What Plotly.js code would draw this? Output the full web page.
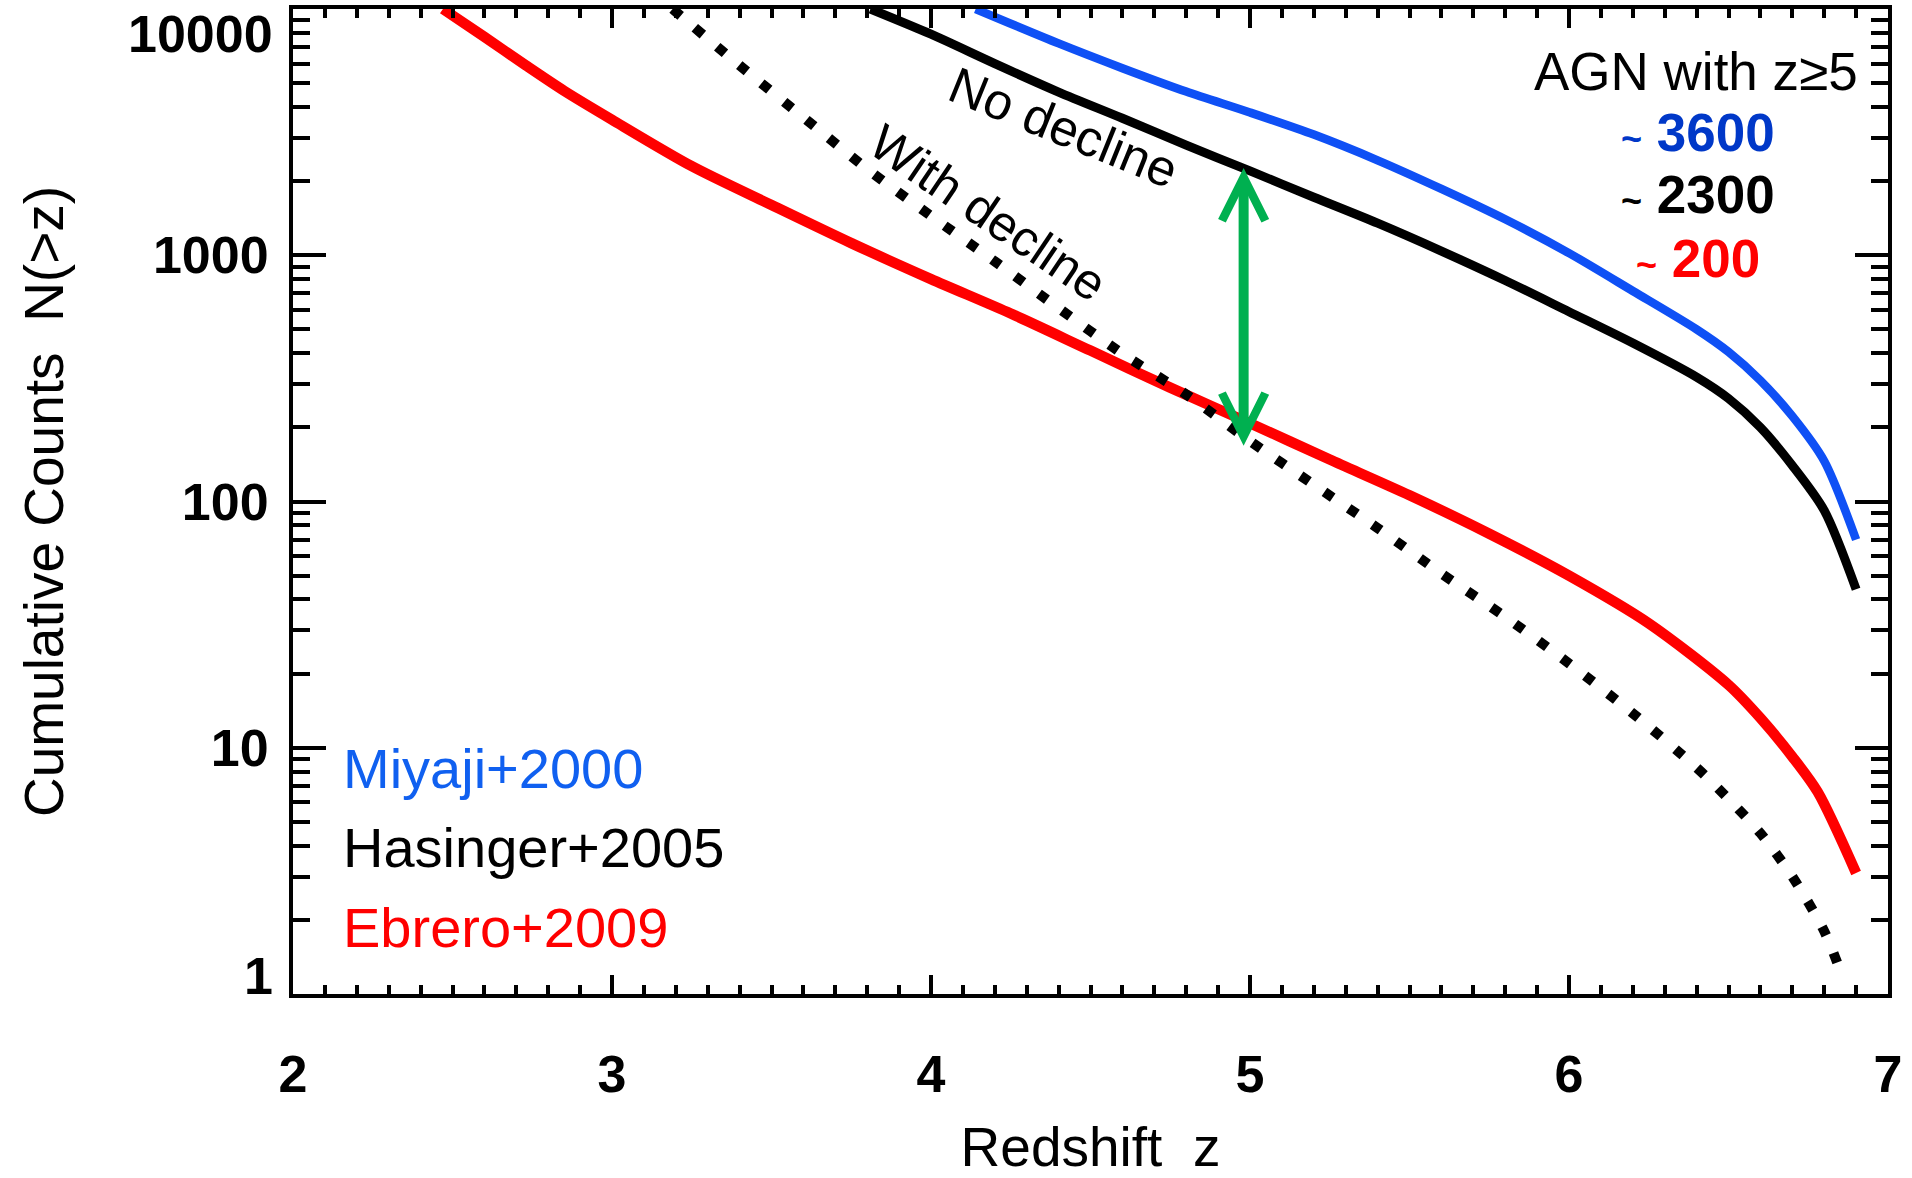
<!DOCTYPE html>
<html><head><meta charset="utf-8">
<script src="https://cdn.plot.ly/plotly-3.0.1.min.js"></script>
<style>html,body{margin:0;padding:0;background:#fff;}#chart{width:1912px;height:1178px;}</style>
</head><body><div id="chart"></div>
<script>
// ---- data ----
const zMiyaji   = [4.14, 4.4, 4.6, 4.8, 5.0, 5.2, 5.4, 5.6, 5.8, 6.0, 6.2, 6.4, 6.5, 6.6, 6.7, 6.8, 6.9];
const nMiyaji   = [10000, 7250, 5750, 4620, 3800, 3090, 2430, 1860, 1400, 1020, 716, 500, 405, 310, 222, 146, 70];

const zHasinger = [3.81, 4.0, 4.2, 4.4, 4.6, 4.8, 5.0, 5.2, 5.4, 5.6, 5.8, 6.0, 6.2, 6.4, 6.5, 6.6, 6.7, 6.8, 6.9];
const nHasinger = [10000, 7900, 6000, 4600, 3600, 2800, 2200, 1720, 1350, 1040, 790, 590, 440, 320, 262, 200, 140, 92, 44];

const zEbrero    = [2.47, 2.6, 2.73, 2.85, 3.0, 3.25, 3.5, 3.75, 4.0, 4.25, 4.5, 4.75, 5.0, 5.25, 5.5, 5.75, 6.0, 6.25, 6.5, 6.6, 6.7, 6.78, 6.9];
const nEbrero    = [10000, 7700, 5900, 4650, 3550, 2300, 1600, 1120, 800, 580, 410, 290, 208, 148, 106, 74, 50, 32, 18, 13.2, 9.2, 6.6, 3.1];

const zDecline  = [3.19, 3.4, 3.6, 3.8, 4.0, 4.2, 4.4, 4.6, 4.8, 5.0, 5.2, 5.4, 5.6, 5.8, 6.0, 6.2, 6.4, 6.5, 6.6, 6.7, 6.8, 6.86];
const nDecline  = [10000, 5900, 3630, 2240, 1445, 944, 610, 398, 272, 176, 117, 78, 51, 34, 22, 13.8, 8.3, 6.2, 4.5, 3.0, 1.8, 1.15];

const xTickVals = [2, 3, 4, 5, 6, 7];
const yTickVals = [1, 10, 100, 1000, 10000];
const yTickText = ['1', '10', '100', '1000', '10000'];

const seriesNames  = ['Miyaji+2000', 'Hasinger+2005', 'Ebrero+2009'];
const countLabels  = ['3600', '2300', '200'];
const countHeader  = 'AGN with z\u22655';

const arrowZ = 4.98, arrowTopN = 2260, arrowBottomN = 166;

// ---- styles ----
const FONT = 'Liberation Sans, Arial, Helvetica, sans-serif';
const BLUE = '#0F50F5', BLUE_TXT = '#1060F0', BLUE_DARK = '#0038C8';
const RED = '#FF0000', BLACK = '#000000', GREEN = '#00B050';

const traces = [
  {x: zMiyaji, y: nMiyaji, mode: 'lines', line: {color: BLUE, width: 8.5, shape: 'spline', smoothing: 0.8}, name: seriesNames[0]},
  {x: zHasinger, y: nHasinger, mode: 'lines', line: {color: BLACK, width: 9, shape: 'spline', smoothing: 0.8}, name: seriesNames[1]},
  {x: zEbrero, y: nEbrero, mode: 'lines', line: {color: RED, width: 10.5, shape: 'spline', smoothing: 0.8}, name: seriesNames[2]},
  {x: zDecline, y: nDecline, mode: 'lines', line: {color: BLACK, width: 10, dash: '10px,19px', shape: 'spline', smoothing: 0.8}, name: 'With decline'}
];

const yMinor = [];
[1, 10, 100, 1000].forEach(d => { for (let k = 2; k <= 9; k++) yMinor.push(d * k); });

const last = yTickVals.length - 1;
const axisYText = yTickText.map((t, i) => (i === 0 || i === last) ? '' : t);

const annotations = [];
// end-of-axis tick labels shifted inward (as in the reference)
annotations.push({xref: 'paper', yref: 'y', x: -0.0113, y: Math.log10(yTickVals[last]), yshift: -25,
  xanchor: 'right', yanchor: 'middle', showarrow: false, text: yTickText[last],
  font: {family: FONT, size: 52, color: BLACK, weight: 'bold'}});
annotations.push({xref: 'paper', yref: 'y', x: -0.0113, y: Math.log10(yTickVals[0]), yshift: 18,
  xanchor: 'right', yanchor: 'middle', showarrow: false, text: yTickText[0],
  font: {family: FONT, size: 52, color: BLACK, weight: 'bold'}});

// series labels bottom-left
const seriesColors = [BLUE_TXT, BLACK, RED];
const seriesY = [0.2294, 0.1492, 0.0680];
seriesNames.forEach((s, i) => annotations.push({xref: 'paper', yref: 'paper', x: 0.0301, y: seriesY[i],
  xanchor: 'left', yanchor: 'middle', showarrow: false, text: s,
  font: {family: FONT, size: 56, color: seriesColors[i]}}));

// header and counts, top-right
annotations.push({xref: 'paper', yref: 'paper', x: 0.9824, y: 0.937, xanchor: 'right', yanchor: 'middle',
  showarrow: false, text: countHeader, font: {family: FONT, size: 53, color: BLACK}});
const countColors = [BLUE_DARK, BLACK, RED];
const countX = [0.9304, 0.9304, 0.921];
const countY = [0.8751, 0.8112, 0.7462];
countLabels.forEach((c, i) => annotations.push({xref: 'paper', yref: 'paper', x: countX[i], y: countY[i],
  xanchor: 'right', yanchor: 'middle', showarrow: false,
  text: '<span style="font-size:36px">~</span> ' + c,
  font: {family: FONT, size: 53, color: countColors[i], weight: 'bold'}}));

// curve labels
annotations.push({xref: 'paper', yref: 'paper', x: 0.4828, y: 0.8792, xanchor: 'center', yanchor: 'middle',
  showarrow: false, text: 'No decline', textangle: 22, font: {family: FONT, size: 51, color: BLACK}});
annotations.push({xref: 'paper', yref: 'paper', x: 0.4357, y: 0.7929, xanchor: 'center', yanchor: 'middle',
  showarrow: false, text: 'With decline', textangle: 34, font: {family: FONT, size: 50, color: BLACK}});

// green double arrow
annotations.push({xref: 'x', yref: 'y', axref: 'x', ayref: 'y',
  x: arrowZ, y: Math.log10(arrowTopN), ax: arrowZ, ay: Math.log10(arrowBottomN),
  text: '', showarrow: true, arrowside: 'end+start', arrowhead: 5, startarrowhead: 5,
  arrowsize: 0.85, startarrowsize: 0.85, arrowwidth: 10, arrowcolor: GREEN, standoff: 0, startstandoff: 0});

const layout = {
  width: 1912, height: 1178,
  margin: {l: 293, r: 24, t: 9, b: 184, pad: 0},
  paper_bgcolor: '#ffffff', plot_bgcolor: '#ffffff',
  showlegend: false,
  font: {family: FONT, color: BLACK},
  xaxis: {
    range: [2, 7], tickmode: 'array', tickvals: xTickVals, ticktext: xTickVals.map(String),
    ticks: 'inside', ticklen: 19, tickwidth: 4, tickcolor: BLACK,
    minor: {ticks: 'inside', dtick: 0.1, tick0: 2, ticklen: 9, tickwidth: 4, tickcolor: BLACK},
    showline: true, linewidth: 4, linecolor: BLACK, mirror: 'allticks',
    showgrid: false, zeroline: false, automargin: false,
    tickfont: {family: FONT, size: 52, color: BLACK, weight: 'bold'},
    ticklabelstandoff: 32,
    title: {text: 'Redshift\u00a0 z', font: {family: FONT, size: 55, color: BLACK}, standoff: 66}
  },
  yaxis: {
    type: 'log', range: [0, 4], tickmode: 'array', tickvals: yTickVals, ticktext: axisYText,
    ticks: 'inside', ticklen: 33, tickwidth: 4, tickcolor: BLACK,
    minor: {ticks: 'inside', tickmode: 'array', tickvals: yMinor, ticklen: 17, tickwidth: 4, tickcolor: BLACK},
    showline: true, linewidth: 4, linecolor: BLACK, mirror: 'allticks',
    showgrid: false, zeroline: false, automargin: false,
    tickfont: {family: FONT, size: 52, color: BLACK, weight: 'bold'},
    ticklabelstandoff: 10,
    title: {text: 'Cumulative Counts\u00a0 N(>z)', font: {family: FONT, size: 55, color: BLACK}, standoff: 73}
  },
  annotations: annotations
};

Plotly.newPlot('chart', traces, layout, {displayModeBar: false, staticPlot: true});
</script></body></html>
